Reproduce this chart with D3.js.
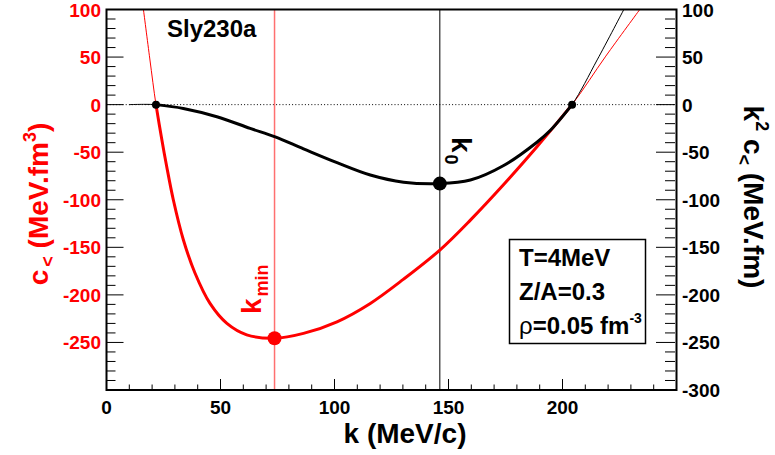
<!DOCTYPE html>
<html><head><meta charset="utf-8">
<script src="https://cdn.jsdelivr.net/npm/d3@7"></script>
<style>body{margin:0;background:#fff}svg{display:block}text{font-family:"Liberation Sans",Arial,Helvetica,sans-serif;font-weight:bold}</style>
</head><body>
<svg id="c" width="775" height="455"></svg>
<script>
// ---- data ----
const redThickK = [21.7,24.2,26.4,29.3,33.7,38.8,45.4,52.8,61.5,73.7,86.4,101.1,115.7,130.3,146.2,159.6,174.2,188.8,204.2];
const redThickV = [0,-36,-65,-100,-142,-177,-209,-230,-242,-245.6,-240.5,-228.3,-209,-183.5,-152.9,-121.4,-84,-44.3,0];
const redThinLeftK = [16.2,19,21.7];
const redThinLeftV = [100,48,0];
const redThinRightK = [204.2,219,233.9];
const redThinRightV = [0,51,100];
const blackThickK = [21.7,33.7,48.4,63,74,86.4,101.1,115.7,130.3,146.2,159.6,174.2,188.8,194.7,204.2];
const blackThickV = [0,-4,-12.7,-25,-34,-46.5,-61,-74,-81.5,-83,-79.3,-64,-39.5,-27,0];
const blackThinLeftK = [10,21.7];
const blackThinLeftV = [0,0];
const blackThinRightK = [204.2,215.2,226.9];
const blackThinRightV = [0,47,100];
const kMin = 73.7, cMin = -245.6;
const k0 = 146.2, c0 = -83;
const zeroK = [21.7,204.2];
const xTicks = [0,50,100,150,200];
const yTicksLeft = [100,50,0,-50,-100,-150,-200,-250];
const yTicksRight = [100,50,0,-50,-100,-150,-200,-250,-300];
const boxLines = ["T=4MeV","Z/A=0.3"];

// ---- layout ----
const svg = d3.select("#c");
const X0=106.5, X1=676.5, Y0=9.5, Y1=390;
const x = d3.scaleLinear().domain([0,250]).range([X0,X1]);
const y = d3.scaleLinear().domain([-300,100]).range([Y1,Y0]);
const RED="#ff0000";

svg.append("defs").append("clipPath").attr("id","clip")
  .append("rect").attr("x",X0).attr("y",Y0).attr("width",X1-X0).attr("height",Y1-Y0);
const g = svg.append("g").attr("clip-path","url(#clip)");

const line = d3.line().x(d=>x(d[0])).y(d=>y(d[1])).curve(d3.curveCatmullRom.alpha(0.5));
const zip=(a,b)=>a.map((v,i)=>[v,b[i]]);

// zero dotted line
g.append("line").attr("x1",X0).attr("x2",X1).attr("y1",y(0)).attr("y2",y(0))
  .attr("stroke","#000").attr("stroke-width",1).attr("stroke-dasharray","1,2.2");

// vertical lines
g.append("line").attr("x1",x(kMin)).attr("x2",x(kMin)).attr("y1",Y0).attr("y2",Y1)
  .attr("stroke","#ff7070").attr("stroke-width",1.5);
g.append("line").attr("x1",x(k0)).attr("x2",x(k0)).attr("y1",Y0).attr("y2",Y1)
  .attr("stroke","#000").attr("stroke-width",1);

// thin curves
const redThinAll = zip(redThinLeftK,redThinLeftV).concat(zip(redThickK,redThickV).slice(1), zip(redThinRightK,redThinRightV).slice(1));
const blackThinAll = zip(blackThinLeftK,blackThinLeftV).concat(zip(blackThickK,blackThickV).slice(1), zip(blackThinRightK,blackThinRightV).slice(1));
g.append("path").attr("d",line(redThinAll)).attr("fill","none").attr("stroke",RED).attr("stroke-width",1);
g.append("path").attr("d",line(blackThinAll)).attr("fill","none").attr("stroke","#000").attr("stroke-width",1);
// thick curves
g.append("path").attr("d",line(zip(redThickK,redThickV))).attr("fill","none").attr("stroke",RED).attr("stroke-width",3);
g.append("path").attr("d",line(zip(blackThickK,blackThickV))).attr("fill","none").attr("stroke","#000").attr("stroke-width",3);

// markers
zeroK.forEach(k=>g.append("circle").attr("cx",x(k)).attr("cy",y(0)).attr("r",4).attr("fill","#000"));
g.append("circle").attr("cx",x(k0)).attr("cy",y(c0)).attr("r",7).attr("fill","#000");
g.append("circle").attr("cx",x(kMin)).attr("cy",y(cMin)).attr("r",7).attr("fill",RED);

// frame
svg.append("rect").attr("x",X0).attr("y",Y0).attr("width",X1-X0).attr("height",Y1-Y0)
  .attr("fill","none").attr("stroke","#000").attr("stroke-width",2);

// ticks
const ax = svg.append("g").attr("stroke","#000").attr("stroke-width",1);
d3.range(0,251,10).forEach(v=>{
  const L = v%50===0?11:5.5;
  ax.append("line").attr("x1",x(v)).attr("x2",x(v)).attr("y1",Y1).attr("y2",Y1-L);
});
d3.range(-300,101,10).forEach(v=>{
  const maj = v%50===0;
  ax.append("line").attr("x1",X0).attr("x2",X0+(maj?17:9)).attr("y1",y(v)).attr("y2",y(v));
  ax.append("line").attr("x1",675).attr("x2",675-(maj?19:10)).attr("y1",y(v)).attr("y2",y(v));
});

// tick labels
xTicks.forEach(v=>svg.append("text").attr("x",x(v)).attr("y",414).attr("text-anchor","middle")
  .attr("font-size",19).text(v));
yTicksLeft.forEach(v=>svg.append("text").attr("x",101).attr("y",y(v)+7).attr("text-anchor","end")
  .attr("font-size",19).attr("fill",RED).text(v));
yTicksRight.forEach(v=>svg.append("text").attr("x",682).attr("y",y(v)+7).attr("text-anchor","start")
  .attr("font-size",19).text(v));

// axis titles
svg.append("text").attr("x",405).attr("y",443).attr("text-anchor","middle").attr("font-size",28).text("k (MeV/c)");

const lt = svg.append("text").attr("transform","translate(48,204) rotate(-90)").attr("text-anchor","middle")
  .attr("font-size",28).attr("fill",RED);
lt.append("tspan").text("c");
lt.append("tspan").attr("font-size",18).attr("dy",6).attr("dx",3).text("<");
lt.append("tspan").attr("dy",-6).text(" (MeV.fm");
lt.append("tspan").attr("font-size",18).attr("dy",-12).text("3");
lt.append("tspan").attr("dy",12).text(")");

const rt = svg.append("text").attr("transform","translate(744,197) rotate(90)").attr("text-anchor","middle")
  .attr("font-size",28);
rt.append("tspan").text("k");
rt.append("tspan").attr("font-size",18).attr("dy",-12).text("2");
rt.append("tspan").attr("dy",12).text(" c");
rt.append("tspan").attr("font-size",18).attr("dy",6).text("<");
rt.append("tspan").attr("dy",-6).text(" (MeV.fm)");

// labels
svg.append("text").attr("x",167).attr("y",37).attr("font-size",24).text("Sly230a");

const km = svg.append("text").attr("transform","translate(261,314) rotate(-90)").attr("font-size",28).attr("fill",RED);
km.append("tspan").text("k");
km.append("tspan").attr("font-size",18).attr("dy",7).attr("dx",2).text("min");

const kz = svg.append("text").attr("transform","translate(452,137) rotate(90)").attr("font-size",28);
kz.append("tspan").text("k");
kz.append("tspan").attr("font-size",18).attr("dy",7).attr("dx",2).text("0");

// box
svg.append("rect").attr("x",509.5).attr("y",239.5).attr("width",136).attr("height",104)
  .attr("fill","#fff").attr("stroke","#000").attr("stroke-width",1.5);
boxLines.forEach((t,i)=>svg.append("text").attr("x",519).attr("y",266+i*34).attr("font-size",24).text(t));
const rho = svg.append("text").attr("x",519).attr("y",334).attr("font-size",24);
rho.append("tspan").attr("font-weight","normal").text("ρ");
rho.append("tspan").text("=0.05 fm");
rho.append("tspan").attr("font-size",14).attr("dy",-11).text("-3");
</script>
</body></html>
